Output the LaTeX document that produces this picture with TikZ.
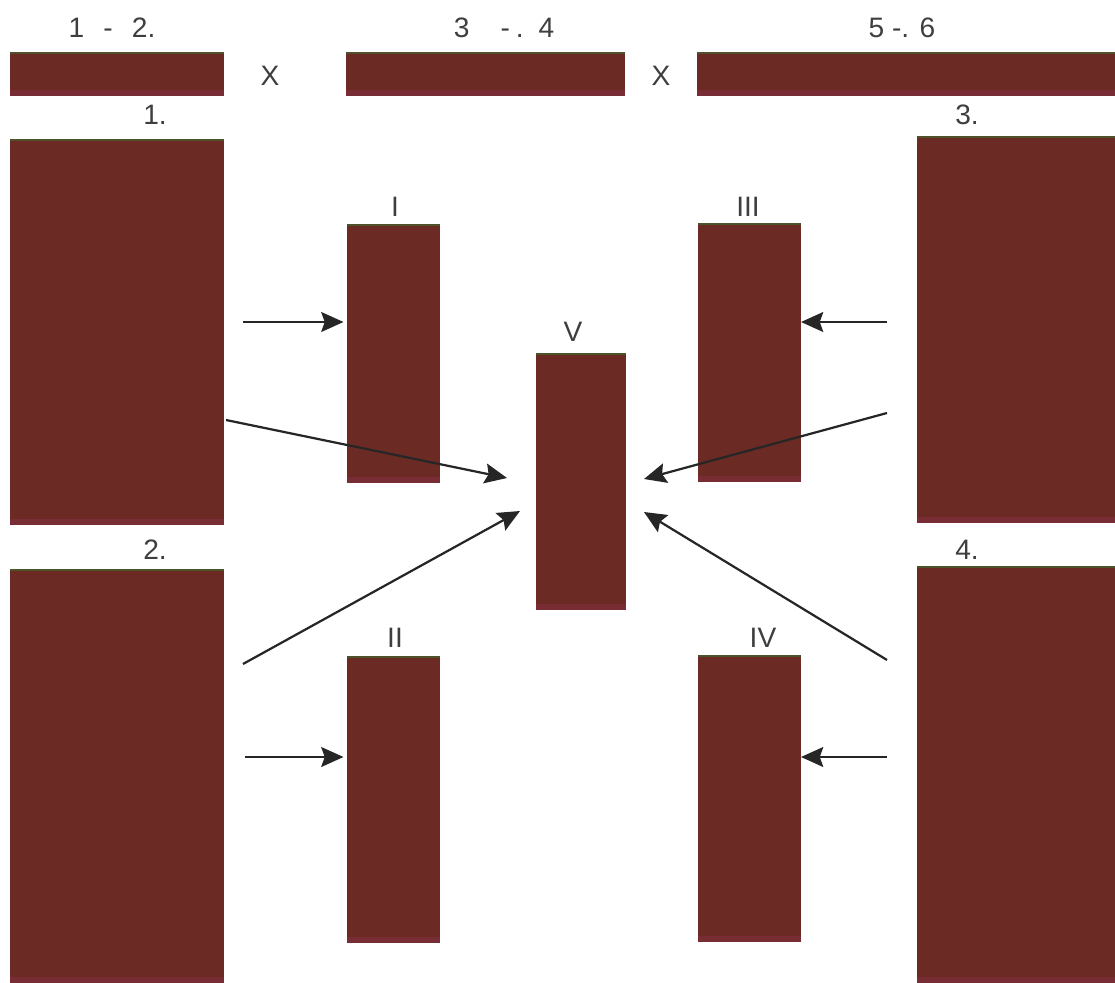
\documentclass[tikz,border=0pt]{standalone}
\usepackage{fontspec}
\setmainfont{Liberation Sans}
\usetikzlibrary{arrows.meta,positioning,calc}

\definecolor{brick}{RGB}{108,42,37}
\definecolor{brickedge}{RGB}{78,82,42}
\definecolor{brickfoot}{RGB}{128,48,62}
\definecolor{inkgray}{RGB}{62,62,62}

\tikzset{
  bar/.style={fill=brick, inner sep=0pt, outer sep=0pt},
  lbl/.style={font=\fontsize{24}{28}\selectfont, text=inkgray, inner sep=0pt},
  arr/.style={-{Stealth[length=19pt,width=17pt,inset=3pt]}, line width=1.9pt, draw=black!85},
}

\begin{document}
\begin{tikzpicture}[x=0.03cm, y=-0.03cm]
\useasboundingbox (0,0) rectangle (1115,983);

% Top row of strips
\node[bar, minimum width=6.42cm, minimum height=1.29cm] (t1) at (117,74.5) {};
\node[bar, minimum width=8.37cm, minimum height=1.29cm] (t2) at (485.5,74.5) {};
\node[bar, minimum width=12.54cm, minimum height=1.29cm] (t3) at (906,74.5) {};
\node[lbl] (l12) at (112,28) {1\ \ \hspace{3pt}-\ \ \hspace{3pt}2.};
\node[lbl] (l34) at (504,28) {3\ \ \ \ -\hspace{5pt}.\ \hspace{6pt}4};
\node[lbl] (l56) at (902,28) {5 -. 6};
\node[lbl] (x1) at (270,76) {X};
\node[lbl] (x2) at (661,76) {X};

% Outer blocks
\node[bar, minimum width=6.42cm, minimum height=11.55cm] (b1) at (117,332.5) {};
\node[bar, minimum width=6.42cm, minimum height=12.39cm] (b2) at (117,776.5) {};
\node[bar, minimum width=5.94cm, minimum height=11.58cm] (b3) at (1016,330) {};
\node[bar, minimum width=5.94cm, minimum height=12.48cm] (b4) at (1016,775) {};
\node[lbl] (n1) at (155,115) {1.};
\node[lbl] (n2) at (155,550) {2.};
\node[lbl] (n3) at (967,115) {3.};
\node[lbl] (n4) at (967,550) {4.};

% Inner columns
\node[bar, minimum width=2.79cm, minimum height=7.74cm] (c1) at (393.5,354) {};
\node[bar, minimum width=2.79cm, minimum height=8.58cm] (c2) at (393.5,800) {};
\node[bar, minimum width=3.09cm, minimum height=7.74cm] (c3) at (749.5,353) {};
\node[bar, minimum width=3.09cm, minimum height=8.58cm] (c4) at (749.5,799) {};
\node[bar, minimum width=2.7cm, minimum height=7.68cm] (c5) at (581,482) {};
\node[lbl] (r1) at (395,207) {I};
\node[lbl] (r2) at (395,638) {II};
\node[lbl] (r3) at (748,207) {III};
\node[lbl] (r4) at (763,638) {IV};
\node[lbl] (r5) at (573,332) {V};

% thin edges on every block
\foreach \n in {t1,t2,t3,b1,b2,b3,b4,c1,c2,c3,c4,c5} {
  \draw[brickedge, line width=1.2pt] (\n.north west) -- (\n.north east);
  \fill[brickfoot, opacity=0.6] ($(\n.south west)+(0,-6)$) rectangle (\n.south east);
}

% arrow tails and tips
\coordinate (s1) at (243,322);
\coordinate (s2) at (245,757);
\coordinate (s3) at (887,322);
\coordinate (s4) at (887,757);
\coordinate (d1) at (226,420);
\coordinate (d2) at (243,664);
\coordinate (d3) at (887,413);
\coordinate (d4) at (887,660);
\coordinate (v1) at (507,478);
\coordinate (v2) at (520,511);
\coordinate (v3) at (644,479);
\coordinate (v4) at (644,512);

\draw[arr] (s1) -- ([xshift=-3pt]c1.west |- s1);
\draw[arr] (s2) -- ([xshift=-3pt]c2.west |- s2);
\draw[arr] (s3) -- (c3.east |- s3);
\draw[arr] (s4) -- (c4.east |- s4);
\draw[arr] (d1) -- (v1);
\draw[arr] (d2) -- (v2);
\draw[arr] (d3) -- (v3);
\draw[arr] (d4) -- (v4);
\end{tikzpicture}
\end{document}
